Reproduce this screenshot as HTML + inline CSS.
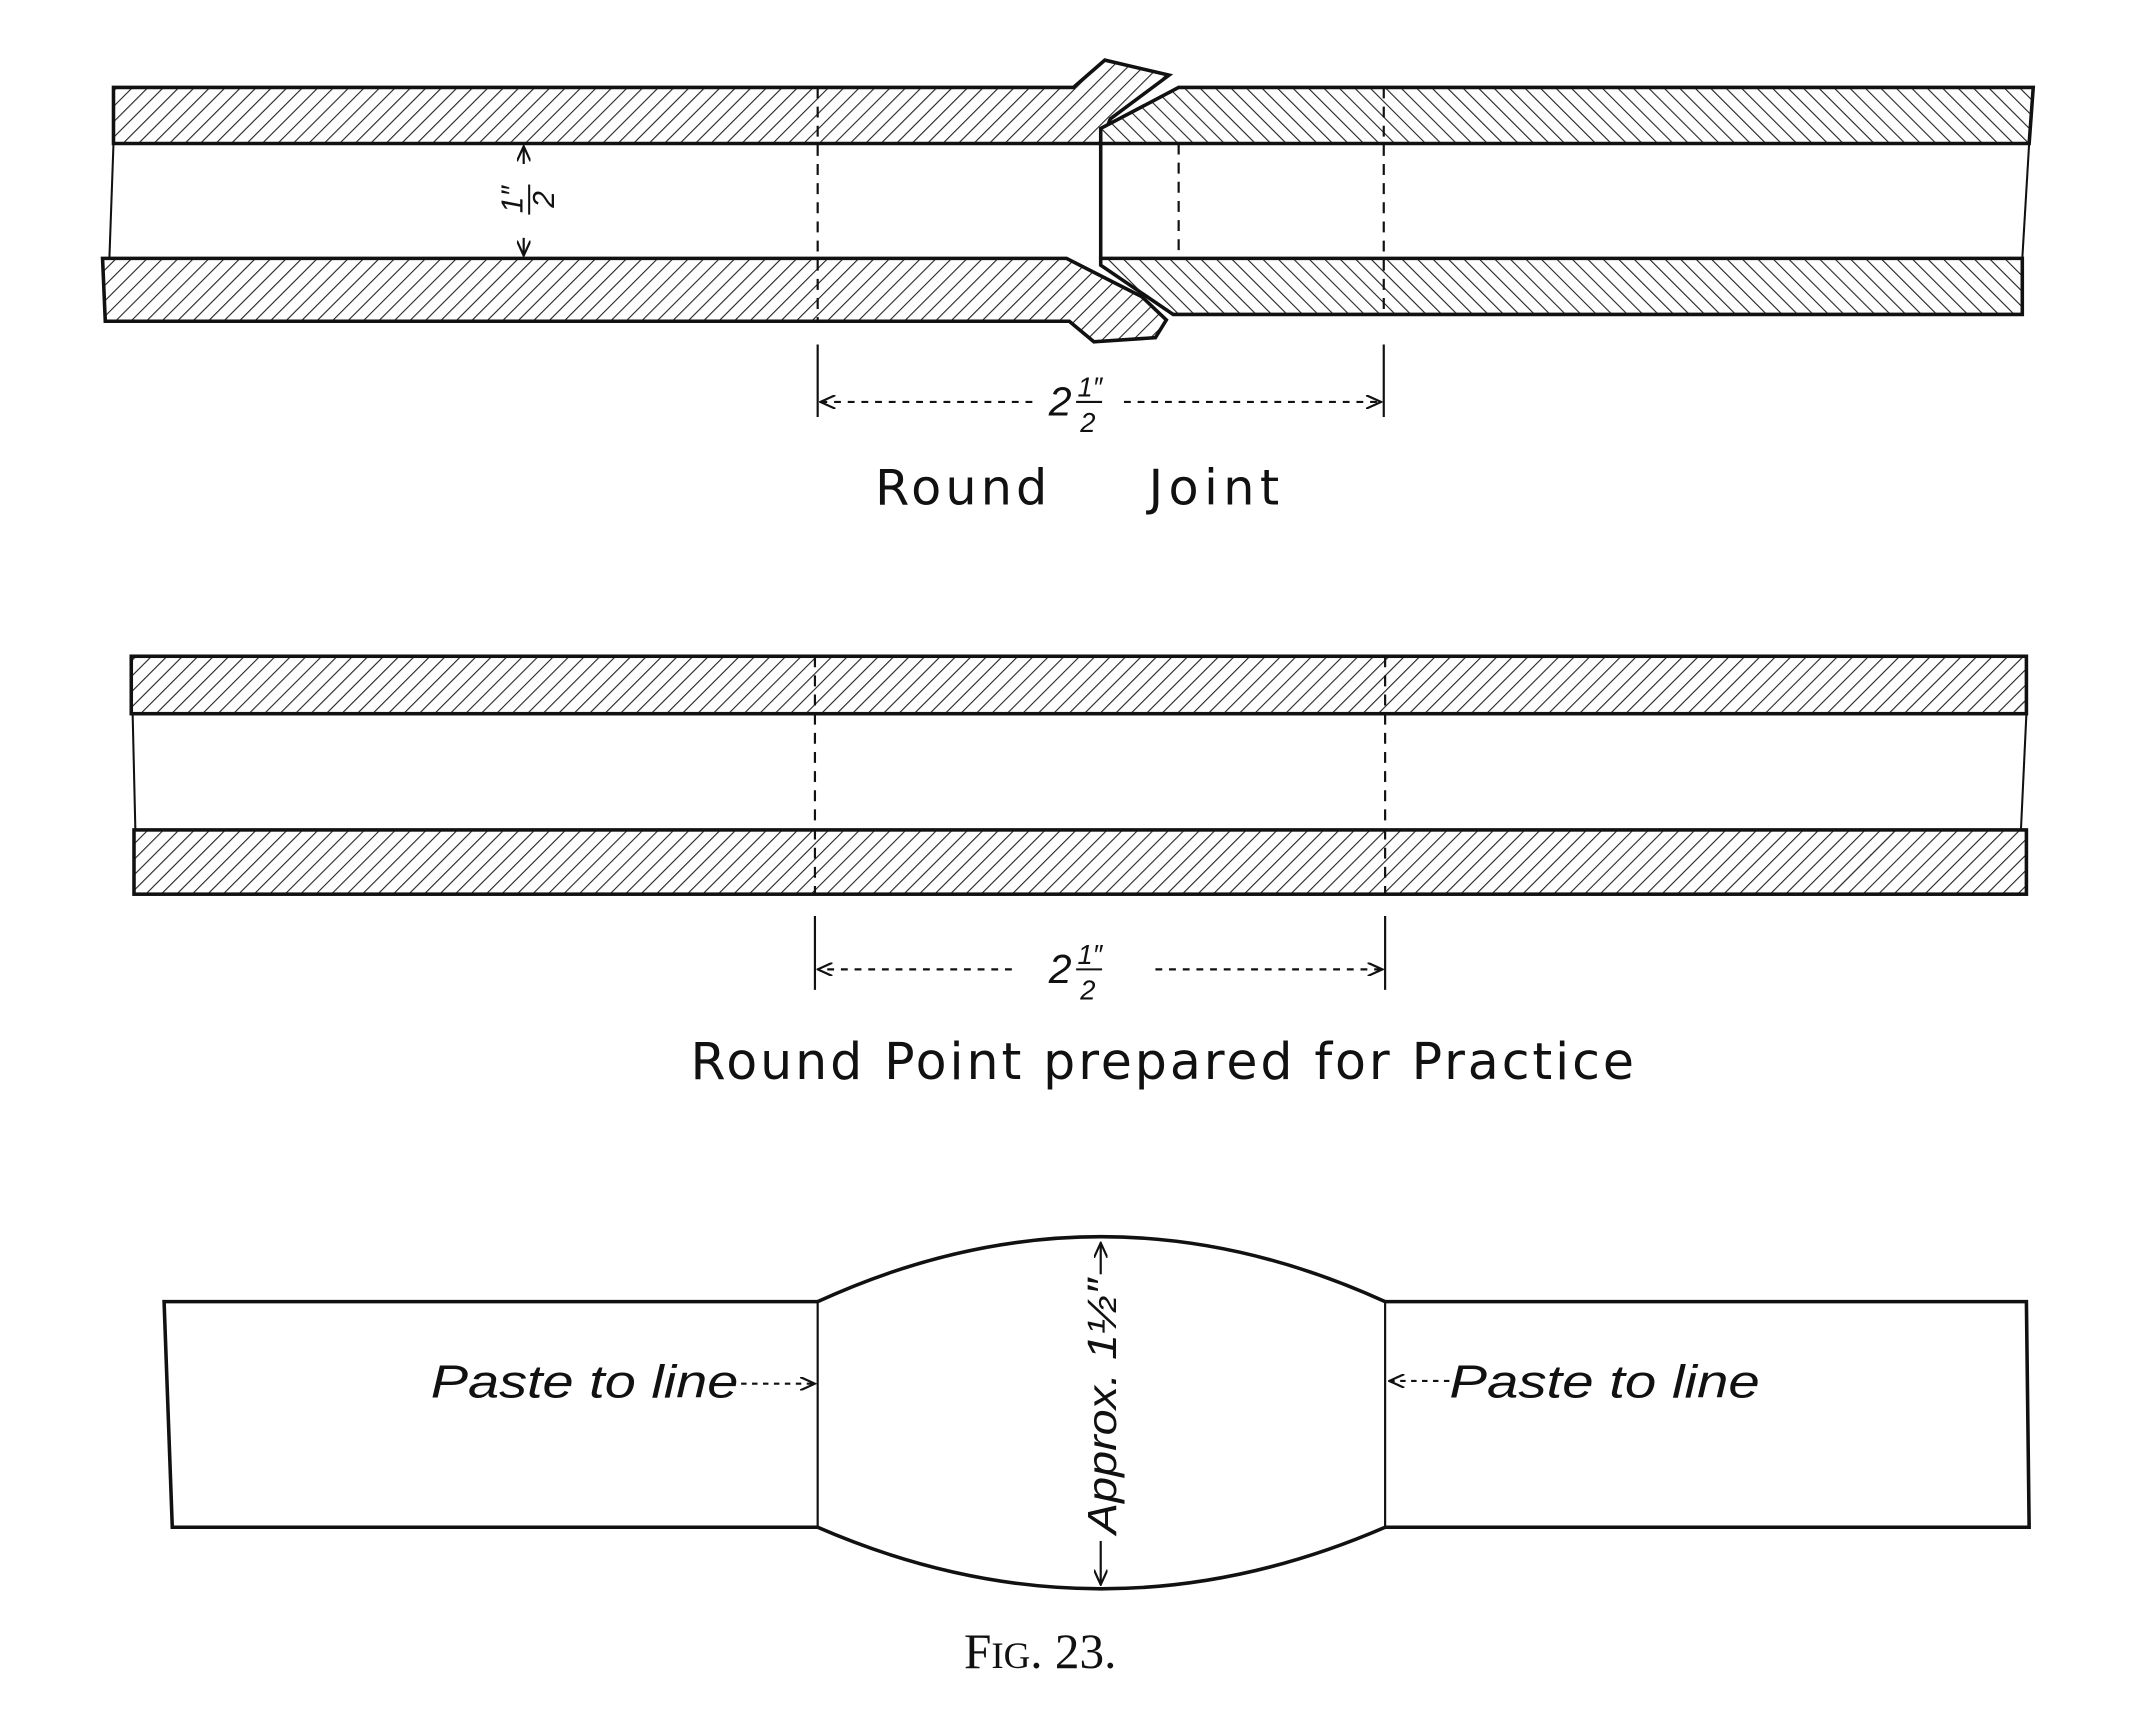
<!DOCTYPE html>
<html><head><meta charset="utf-8"><style>
html,body{margin:0;padding:0;background:#fff;}
svg{display:block;}
.hand{font-family:"DejaVu Sans","Liberation Sans",sans-serif;}
.it{font-family:"Liberation Sans",sans-serif;font-style:italic;}
</style></head><body>
<svg width="2144" height="1720" viewBox="0 0 1568 1254" xmlns="http://www.w3.org/2000/svg">
<defs>
<pattern id="hf" width="8" height="8" patternUnits="userSpaceOnUse" patternTransform="rotate(45)">
<rect width="8" height="8" fill="#fff"/><line x1="0" y1="0" x2="0" y2="8" stroke="#222" stroke-width="1.6"/></pattern>
<pattern id="hb" width="8" height="8" patternUnits="userSpaceOnUse" patternTransform="rotate(-45)">
<rect width="8" height="8" fill="#fff"/><line x1="0" y1="0" x2="0" y2="8" stroke="#222" stroke-width="1.6"/></pattern>
<marker id="ar" markerWidth="12" markerHeight="10" refX="11" refY="5" orient="auto" markerUnits="userSpaceOnUse">
<path d="M0,0 L11,5 L0,10" fill="none" stroke="#111" stroke-width="1.6"/></marker>
</defs>
<g stroke="#111" stroke-width="2.6" fill="none">
<polygon points="83,62 785,62 808,42 855,53 812,85 805,103 83,103" fill="url(#hf)"/>
<polygon points="862,62 1487,62 1484,103 805,103 805,92 862,62" fill="url(#hb)"/>
<polygon points="75,187 780,187 835,215 853,232 845,245 800,248 782,233 77,233" fill="url(#hf)"/>
<polygon points="805,187 1479,187 1479,228 858,228 805,192" fill="url(#hb)"/>
<line x1="805" y1="103" x2="805" y2="187"/>
<line x1="83" y1="103" x2="80" y2="187" stroke-width="1.5"/>
<line x1="1484" y1="103" x2="1479" y2="187" stroke-width="1.5"/>
<g stroke-width="1.6" stroke-dasharray="8,6">
<line x1="598" y1="62" x2="598" y2="233"/><line x1="1012" y1="62" x2="1012" y2="228"/>
<line x1="862" y1="103" x2="862" y2="187"/></g>
<g stroke-width="1.6"><line x1="598" y1="250" x2="598" y2="303"/><line x1="1012" y1="250" x2="1012" y2="303"/>
<line x1="755" y1="292" x2="600" y2="292" stroke-dasharray="5,5" marker-end="url(#ar)"/>
<line x1="822" y1="292" x2="1010" y2="292" stroke-dasharray="5,5" marker-end="url(#ar)"/>
<line x1="383" y1="118" x2="383" y2="105" marker-end="url(#ar)"/>
<line x1="383" y1="172" x2="383" y2="185" marker-end="url(#ar)"/></g>
<rect x="96" y="478" width="1386" height="42" fill="url(#hf)"/>
<rect x="98" y="605" width="1384" height="47" fill="url(#hf)"/>
<line x1="97" y1="520" x2="99" y2="605" stroke-width="1.5"/>
<line x1="1482" y1="520" x2="1478" y2="605" stroke-width="1.5"/>
<g stroke-width="1.6" stroke-dasharray="8,6">
<line x1="596" y1="478" x2="596" y2="652"/><line x1="1013" y1="478" x2="1013" y2="652"/></g>
<g stroke-width="1.6"><line x1="596" y1="668" x2="596" y2="722"/><line x1="1013" y1="668" x2="1013" y2="722"/>
<line x1="740" y1="707" x2="598" y2="707" stroke-dasharray="5,5" marker-end="url(#ar)"/>
<line x1="845" y1="707" x2="1011" y2="707" stroke-dasharray="5,5" marker-end="url(#ar)"/></g>
<polyline points="598,950 120,950 126,1115 598,1115"/>
<polyline points="1013,950 1482,950 1484,1115 1013,1115"/>
<path d="M598,950 Q805,855 1013,950"/>
<path d="M598,1115 Q805,1205 1013,1115"/>
<line x1="598" y1="950" x2="598" y2="1115" stroke-width="1.6"/>
<line x1="1013" y1="950" x2="1013" y2="1115" stroke-width="1.6"/>
<g stroke-width="1.6">
<line x1="805" y1="930" x2="805" y2="907" marker-end="url(#ar)"/>
<line x1="805" y1="1125" x2="805" y2="1157" marker-end="url(#ar)"/>
<line x1="542" y1="1010" x2="596" y2="1010" stroke-dasharray="4,4" marker-end="url(#ar)"/>
<line x1="1060" y1="1008" x2="1016" y2="1008" stroke-dasharray="4,4" marker-end="url(#ar)"/></g>
</g>
<g fill="#111">
<text class="it" x="767" y="302" font-size="30">2</text>
<text class="it" x="788" y="288" font-size="20">1″</text>
<line x1="787" y1="292" x2="806" y2="292" stroke="#111" stroke-width="1.5"/>
<text class="it" x="790" y="314" font-size="20">2</text>
<text class="hand" x="640" y="367" font-size="36" letter-spacing="3">Round</text>
<text class="hand" x="840" y="367" font-size="36" letter-spacing="4">Joint</text>
<g transform="translate(387,145) rotate(-90)">
<text class="it" x="-9" y="-5" font-size="22">1″</text>
<line x1="-10" y1="0" x2="12" y2="0" stroke="#111" stroke-width="1.5"/>
<text class="it" x="-5" y="18" font-size="22">2</text>
</g>
<text class="it" x="767" y="717" font-size="30">2</text>
<text class="it" x="788" y="703" font-size="20">1″</text>
<line x1="787" y1="707" x2="806" y2="707" stroke="#111" stroke-width="1.5"/>
<text class="it" x="790" y="729" font-size="20">2</text>
<text class="hand" x="505" y="787" font-size="37" textLength="690" lengthAdjust="spacing">Round  Point prepared for Practice</text>
<text class="it" x="315" y="1020" font-size="34" textLength="225" lengthAdjust="spacingAndGlyphs">Paste to line</text>
<text class="it" x="1060" y="1020" font-size="34" textLength="227" lengthAdjust="spacingAndGlyphs">Paste to line</text>
<text class="it" font-size="30" transform="translate(816,1120) rotate(-90)" textLength="187" lengthAdjust="spacingAndGlyphs">Approx. 1½″</text>
<text x="705" y="1218" font-size="36" font-family="Liberation Serif,serif">F<tspan font-size="27">IG</tspan>. 23.</text>
</g>
</svg>
</body></html>
